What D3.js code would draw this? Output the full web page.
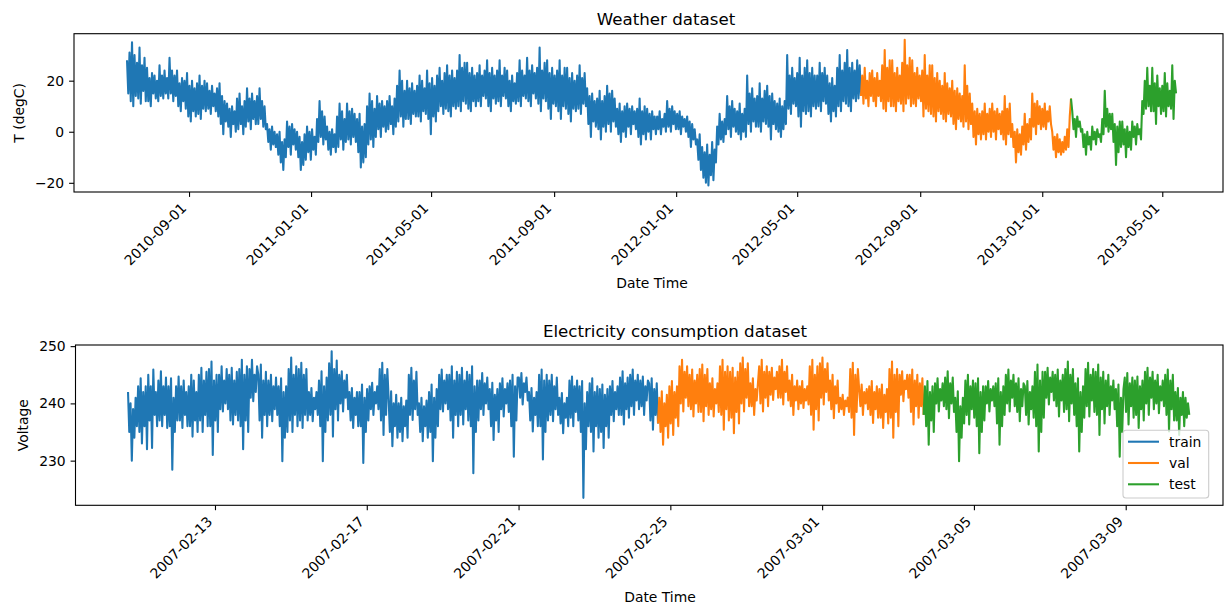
<!DOCTYPE html>
<html>
<head>
<meta charset="utf-8">
<script src="https://cdn.jsdelivr.net/npm/d3@7"></script>
<style>
  body { margin: 0; background: #fff; }
  text { font-family: "DejaVu Sans", sans-serif; }
</style>
</head>
<body>
<svg id="chart"></svg>
<script>
// ---- weather (T degC), one value every 30 hours from 2010-07-01 ----
const weatherStart = "2010-07-01T00:00";
const weatherStepMinutes = 1800;
const weatherTrain = [
  28, 15, 31, 12, 35, 10, 30, 14,  27, 13, 33, 11, 26, 16, 29, 12,  25, 12, 21, 10, 23, 15, 22, 13,
  20, 12, 26, 14, 22, 13, 24, 15,  21, 13, 29, 15, 24, 12, 22, 14,  24, 10, 19, 8, 21, 12, 20, 9,
  23, 6, 18, 4, 20, 8, 17, 6,  19, 7, 22, 5, 18, 9, 20, 8,  19, 9, 16, 7, 18, 10, 15, 8,
  17, 6, 19, 3, 14, -1, 12, 4,  11, 2, 9, -2, 10, 3, 8, 0,  13, 1, 15, 3, 10, -1, 12, 2,
  17, 4, 13, 1, 15, 5, 12, 3,  14, 3, 17, 5, 12, 2, 10, 1,  3, -4, 1, -7, 2, -5, 0, -6,
  -1, -9, 0, -12, -4, -15, -3, -10,  4, -6, 2, -9, 3, -5, 1, -7,  0, -10, -2, -15, -4, -13, -1, -11,
  2, -8, 0, -11, 1, -7, -2, -9,  5, -4, 12, -2, 8, -5, 6, -3,  2, -7, 0, -9, 1, -6, -1, -8,
  6, -6, 11, -3, 8, -7, 5, -4,  11, -3, 8, -5, 9, -2, 7, -4,  5, -8, 7, -14, 2, -12, 3, -10,
  10, -5, 15, -3, 12, -6, 9, -2,  14, 1, 11, -2, 12, 2, 10, 0,  12, 1, 14, 3, 10, -1, 13, 2,
  18, 4, 24, 6, 20, 2, 16, 5,  20, 5, 17, 3, 19, 7, 16, 6,  18, 6, 22, 4, 20, 8, 17, 7,
  24, 5, 19, -1, 21, 6, 18, 4,  22, 8, 25, 10, 20, 7, 23, 9,  26, 8, 22, 6, 24, 10, 21, 9,
  24, 10, 30, 8, 25, 12, 27, 11,  27, 9, 23, 8, 25, 12, 22, 10,  23, 12, 26, 10, 22, 14, 24, 13,
  28, 10, 23, 8, 25, 13, 22, 11,  24, 12, 28, 10, 22, 14, 25, 13,  24, 10, 20, 8, 22, 12, 19, 11,
  23, 12, 28, 10, 24, 14, 22, 13,  29, 12, 24, 10, 26, 15, 23, 13,  25, 11, 33, 8, 24, 13, 27, 12,
  28, 9, 23, 5, 25, 11, 22, 10,  24, 8, 28, 5, 22, 10, 25, 9,  25, 7, 21, 4, 23, 9, 20, 8,
  22, 9, 26, 7, 21, 11, 23, 10,  17, 3, 14, -2, 15, 4, 12, 2,  13, 1, 16, -3, 12, 2, 14, 0,
  18, 3, 15, 0, 16, 4, 13, 2,  9, -1, 11, -4, 8, 0, 10, -2,  11, 2, 9, -1, 10, 3, 8, 1,
  9, -2, 13, -5, 8, -1, 10, -3,  9, 0, 7, -3, 8, 1, 6, -1,  6, 1, 8, -1, 5, 2, 7, 0,
  12, 2, 9, 0, 10, 3, 8, 1,  7, 1, 8, -1, 6, 2, 5, 0,  6, -2, 4, -6, 3, -3, 1, -5,
  -3, -11, -1, -15, -6, -18, -8, -20,  -5, -21, -9, -17, -4, -19, -7, -12,  2, -5, 7, -3, 4, -4, 5, -1,
  14, 1, 10, -2, 12, 2, 9, 0,  8, -1, 11, -3, 7, 0, 9, -2,  22, 3, 15, 0, 17, 4, 13, 2,
  14, 2, 19, 0, 13, 4, 16, 3,  18, 2, 14, -3, 15, 3, 12, 1,  11, 0, 13, -2, 10, 1, 12, 3,
  30, 9, 22, 7, 25, 11, 21, 10,  23, 6, 29, 2, 22, 8, 25, 7,  28, 8, 23, 6, 25, 10, 22, 9,
  22, 10, 27, 8, 23, 12, 25, 11,  22, 7, 19, 4, 21, 8, 18, 6,  25, 10, 30, 8, 24, 12, 27, 11,
  32, 10, 25, 8, 27, 13, 24, 12, 28, 13, 26, 14
];
const weatherVal = [
  22, 11, 25, 13, 20, 10, 23, 14,  24, 12, 21, 10, 23, 14, 20, 12,  26, 9, 32, 8, 25, 12, 28, 10,
  28, 10, 23, 8, 25, 12, 22, 11,  27, 8, 36, 11, 26, 13, 29, 10,  28, 11, 23, 10, 25, 13, 22, 12,
  24, 6, 30, 9, 22, 8, 26, 7,  26, 6, 21, 4, 23, 8, 20, 7,  18, 5, 23, 4, 19, 7, 17, 6,
  20, 3, 16, 1, 17, 5, 15, 4,  14, 2, 26, 4, 18, 1, 15, 3,  11, -2, 8, -5, 9, -1, 7, -3,
  8, -1, 11, -3, 7, 0, 9, -2,  11, 0, 8, -3, 9, 1, 7, -1,  8, -3, 14, -5, 9, -1, 11, -2,
  3, -6, 0, -12, 1, -8, -1, -9,  2, -5, 7, -7, 3, -4, 5, -3,  15, 2, 11, -1, 12, 3, 10, 1,
  9, 2, 11, 1, 8, 4, 10, 3,  0, -7, -2, -10, -1, -8, -3, -9,  -4, -8, -2, -7, 1, -6, 6, 13
];
const weatherTest = [
  8, 1, 5, -2, 6, 2, 4, 0,  1, -6, -1, -9, 0, -5, -2, -7,  2, -3, 0, -5, 1, -2, -1, -4,
  5, -1, 16, 2, 9, 0, 7, 1,  7, -4, 3, -13, 2, -8, 4, -6,  4, -5, 1, -10, 2, -6, 0, -7,
  4, -2, 2, -5, 3, -1, 1, -3,  12, 7, 20, 9, 25, 10, 18, 8,  25, 8, 19, 3, 22, 10, 17, 7,
  18, 8, 23, 6, 19, 10, 16, 9,  26, 5, 20, 15
];
const weatherTicks = ["2010-09-01", "2011-01-01", "2011-05-01", "2011-09-01", "2012-01-01",
  "2012-05-01", "2012-09-01", "2013-01-01", "2013-05-01"];
const weatherYTicks = [-20, 0, 20];

// ---- electricity (Voltage), one value every 48 minutes from 2007-02-10 17:00 ----
const powerStart = "2007-02-10T17:00";
const powerStepMinutes = 48;
const powerTrain = [
  242, 235, 240, 230, 239, 234, 241, 236,  243, 235, 244.4, 233, 242, 236, 243, 232,
  245, 237, 243, 232.2, 245.9, 238, 242, 236,  244, 237, 245.6, 236, 243, 238, 244.5, 235.7,
  243, 236, 244.4, 228.4, 241, 235, 243, 237,  244.7, 237, 243, 235.7, 244, 238, 242, 236,
  243, 236, 245, 234.2, 244, 237, 242, 235,  245, 237, 246.2, 235, 244, 238, 245.5, 236,
  246, 236, 247.3, 231, 244, 237, 245, 235,  245, 239, 246.5, 238.6, 244, 240, 246, 239,
  245, 237, 246.2, 236.3, 244, 238, 245.5, 237,  246, 236, 247.6, 232, 245, 237, 246.5, 235,
  246, 241, 247.6, 240.4, 245, 242, 246.5,  245, 237, 246.8, 234, 244, 238, 245.5, 236,
  244, 238, 245, 236.9, 243, 239, 244.5, 238,  243, 236, 244.4, 229.9, 242, 234, 243, 235,
  246, 237, 248, 235, 245, 238, 246.5, 236,  246, 237, 247.1, 235.7, 245, 238, 246, 237,
  242, 238, 242.7, 236.9, 241, 239, 242, 238,  244, 236, 245.6, 229.9, 243, 235, 244.5, 237,
  247, 238, 249.1, 234.2, 246, 239, 247.5, 237,  245, 240, 245.6, 238.6, 244, 241, 245, 239,
  242, 237, 242.7, 235.7, 241, 238, 242, 236,  242, 236, 243.3, 229.6, 241, 235, 242.5, 237,
  243, 239, 243.6, 238, 242, 240, 243, 239,  246, 237, 247.1, 234.5, 245, 238, 246,
  241, 235, 242.1, 232.5, 240, 236, 241.5, 234,  240, 235, 241, 233.4, 239.5, 236, 240.5, 234,
  245, 238, 246.2, 237.1, 244, 239, 245.5, 238,  240, 235, 241, 233.4, 239.5, 236, 240.5, 234,
  242, 235, 243.3, 229.9, 241, 234, 242.5, 236,  245, 239, 245.9, 238.6, 244, 240, 245, 239,
  245, 237, 246.5, 234, 244, 238, 245.5, 236,  245, 238, 246.2, 236.3, 244, 239, 245.5, 237,
  245, 236, 246.5, 227.8, 243, 235, 244, 237,  244, 239, 245.3, 238, 243.5, 240, 244.5, 239,
  242.5, 236, 243.6, 233.6, 241.5, 237, 242.5, 235,  243.5, 239, 244.4, 237.7, 242.5, 240, 243.5, 238.5,
  244, 236, 245, 230.7, 243, 237, 244.5,  244.5, 241, 245.3, 239.8, 243.5, 242, 244.5, 240.5,
  242, 237, 242.7, 235.1, 241, 238, 242, 236,  245, 236, 245.9, 230.2, 244, 235, 245, 237,
  244, 238, 245, 236.9, 243, 239, 244.5, 238,  241, 236.5, 241.8, 234.8, 240, 237.5, 241, 236,
  244, 237.5, 244.7, 236, 243, 238.5, 244, 237,  243, 235, 243.9, 223.5, 240, 232, 242, 236,
  243.5, 235, 244.4, 231.6, 242, 236, 243, 234,  242.5, 235, 243.3, 232.2, 241.5, 236, 242.5, 234,
  243, 238, 243.9, 236.9, 242, 239, 243, 238,  244.5, 238, 245.6, 236.3, 243.5, 239, 244.5, 237.5,
  245, 239.5, 245.9, 238, 244, 240.5, 245, 239,  244, 239.5, 244.7, 238, 243, 240.5, 244,
  243.5, 237, 244.4, 235.4, 242.5, 238, 243.5, 236.5
];
const powerVal = [
  241, 235, 242.1, 232.8, 240, 236, 241.5, 234,  243, 236.5, 243.9, 234.5, 242, 237.5, 243, 236,
  246.5, 240, 247.6, 238.6, 245.5, 241, 246.5, 239.5,  245, 239, 245.9, 237.7, 244, 240, 245, 238.5,
  246, 238.5, 246.8, 236.9, 245, 239.5, 246, 238,  243.5, 239, 244.4, 237.7, 242.5, 240, 243.5, 238.5,
  246.5, 238, 247.6, 235.4, 245.5, 239, 246.5, 237,  245.5, 237.5, 246.2, 234.8, 244.5, 238.5, 245.5, 236.5,
  247, 240, 248, 238.6, 246, 241, 247, 239.5,  243.5, 239.5, 244.4, 238, 242.5, 240.5, 243.5,
  246.5, 240, 247.6, 238.6, 245.5, 241, 246.5, 239.5,  245.5, 241.5, 246.2, 240.6, 244.5, 242.5, 245.5, 241,
  246.5, 241, 247.6, 239.8, 245.5, 242, 246.5, 240.5,  244, 239.5, 245, 238, 243, 240.5, 244, 239,
  243, 240, 243.9, 239.2, 242.5, 240.5, 243, 239.8,  246.5, 238, 247.6, 235.4, 245, 239, 246.5, 237,
  247, 241, 248, 239.8, 246, 242, 247, 240.5,  244, 239, 245, 237.4, 243, 240, 244, 238.5,
  241, 239, 241.5, 238, 240.5, 239.5, 241, 238.5,  246, 237.5, 247.1, 234.5, 245, 238.5, 246,
  242.5, 239.5, 243.3, 238, 242, 240, 242.5, 239,  243, 238, 243.9, 236.6, 242, 239, 243, 237.5,
  242.5, 237.5, 243.3, 235.7, 241.5, 238.5, 242.5, 236.5,  246, 237.5, 247.3, 234, 245, 238.5, 246, 236,
  245, 241.5, 245.6, 240.4, 244, 242.5, 245, 241,  245, 238.5, 245.9, 236.3, 244, 239.5, 245, 237.5,
  243.5, 239.5, 244.4, 238
];
const powerTest = [
  243, 236, 243.9, 232.8, 242, 237, 243, 235,  243.5, 240, 244.4, 238.6, 242.5, 240.5, 243.5, 239.5,
  244.5, 239, 245.6, 237.4, 243.5, 240, 244.5, 238.5,  241, 235, 242.1, 229.9, 239.5, 234, 241, 236.5,
  244, 238, 245, 236.3, 243, 239, 244, 237.5,  243.5, 236, 244.4, 231.3, 242, 235, 243, 237,
  243, 240, 243.9, 238.6, 242.5, 240.5, 243, 239.5,  243.5, 236.5, 244.4, 232.8, 242, 236, 243, 238,
  245, 240, 245.9, 238.6, 244, 241, 245, 239.5,  243.5, 238.5, 244.4, 236.9, 242.5, 239.5, 243.5,
  243, 238, 243.9, 236.3, 242, 239, 243, 237.5,  245.5, 236, 246.8, 231.6, 244, 235, 245.5, 237.5,
  245.5, 241, 246.2, 239.8, 244.5, 242, 245.5, 240.5,  245, 239.5, 245.9, 237.7, 244, 240.5, 245, 238.5,
  246, 239, 247.3, 236.9, 245, 240, 246, 238,  243.5, 236, 244.4, 231.6, 242, 235, 243, 237.5,
  246, 239.5, 247.1, 237.7, 245, 240.5, 246, 238.5,  245.5, 238, 246.8, 234.5, 244.5, 239, 245.5, 236.5,
  244, 239.5, 245, 238, 243, 240.5, 244, 239,  242.5, 236, 243.3, 230.7, 241, 235, 242.5,
  244.5, 238.5, 245.3, 236.3, 243.5, 239.5, 244.5, 237.5,  244, 238, 244.7, 235.7, 243, 239, 244, 237,
  245.5, 240, 246.2, 238, 244.5, 241, 245.5, 239,  244, 240, 245, 238.3, 243, 240.5, 244, 239.5,
  245, 238, 245.9, 235.1, 244, 239, 245, 237,  242, 237, 242.7, 234.5, 241, 238, 242, 236,
  241, 237.5, 240, 238
];
const powerTicks = ["2007-02-13", "2007-02-17", "2007-02-21", "2007-02-25",
  "2007-03-01", "2007-03-05", "2007-03-09"];
const powerYTicks = [230, 240, 250];

const splitNames = ["train", "val", "test"];
const splitColors = ["#1f77b4", "#ff7f0e", "#2ca02c"];

const width = 1224, height = 605;
const parseDay = d3.utcParse("%Y-%m-%d");
const parseTime = d3.utcParse("%Y-%m-%dT%H:%M");
const fmtDay = d3.utcFormat("%Y-%m-%d");

const svg = d3.select("#chart")
  .attr("width", width)
  .attr("height", height)
  .style("display", "block");

function drawPanel(p) {
  const x = d3.scaleUtc().domain(p.xDomain).range([p.left, p.right]);
  const y = d3.scaleLinear().domain(p.yDomain).range([p.bottom, p.top]);
  const g = svg.append("g");

  // series, one path per split; each split picks up where the previous one stopped
  const start = parseTime(p.start);
  let offset = 0, prev = null;
  p.series.forEach((vals, k) => {
    let pts = vals.map((v, i) => ({ t: d3.utcMinute.offset(start, (offset + i) * p.stepMinutes), v: v }));
    offset += vals.length;
    if (prev) pts = [prev].concat(pts);
    prev = pts[pts.length - 1];
    g.append("path")
      .datum(pts)
      .attr("fill", "none")
      .attr("stroke", splitColors[k])
      .attr("stroke-width", 2.08)
      .attr("stroke-linejoin", "round")
      .attr("d", d3.line().x(d => x(d.t)).y(d => y(d.v)));
  });

  // frame
  g.append("rect")
    .attr("x", p.left).attr("y", p.top)
    .attr("width", p.right - p.left).attr("height", p.bottom - p.top)
    .attr("fill", "none").attr("stroke", "#000").attr("stroke-width", 1.1);

  // x axis
  const xAxis = g.append("g")
    .attr("transform", `translate(0,${p.bottom})`)
    .call(d3.axisBottom(x).tickValues(p.xTicks.map(parseDay)).tickFormat(fmtDay)
      .tickSize(4.9).tickSizeOuter(0));
  xAxis.select(".domain").remove();
  xAxis.selectAll(".tick line").attr("stroke", "#000").attr("stroke-width", 1.1);
  xAxis.selectAll(".tick text")
    .attr("x", 0).attr("y", 0).attr("dy", null)
    .attr("text-anchor", "end")
    .attr("transform", "translate(-2.3,17.1) rotate(-45)")
    .style("font-size", "13.9px").attr("fill", "#000");

  // y axis
  const yAxis = g.append("g")
    .attr("transform", `translate(${p.left},0)`)
    .call(d3.axisLeft(y).tickValues(p.yTicks).tickSize(4.9).tickPadding(4.9).tickSizeOuter(0));
  yAxis.select(".domain").remove();
  yAxis.selectAll(".tick line").attr("stroke", "#000").attr("stroke-width", 1.1);
  yAxis.selectAll(".tick text").style("font-size", "13.9px").attr("fill", "#000");

  // labels
  g.append("text")
    .attr("x", p.titleX).attr("y", p.top - 8.3)
    .attr("text-anchor", "middle")
    .style("font-size", "16.67px")
    .text(p.title);
  g.append("text")
    .attr("x", p.xLabelX).attr("y", p.xLabelY)
    .attr("text-anchor", "middle")
    .style("font-size", "13.9px")
    .text("Date Time");
  g.append("text")
    .attr("transform", `translate(${p.yLabelX},${(p.top + p.bottom) / 2}) rotate(-90)`)
    .attr("text-anchor", "middle")
    .style("font-size", "13.9px")
    .text(p.yLabel);
}

drawPanel({
  title: "Weather dataset", titleX: 666,
  yLabel: "T (degC)", yLabelX: 24,
  xLabelX: 652, xLabelY: 287.5,
  left: 74, right: 1223, top: 33.7, bottom: 192,
  xDomain: [parseTime("2010-05-09T00:00"), parseTime("2013-06-30T17:00")],
  yDomain: [-23.6, 38.4],
  xTicks: weatherTicks, yTicks: weatherYTicks,
  start: weatherStart, stepMinutes: weatherStepMinutes,
  series: [weatherTrain, weatherVal, weatherTest]
});

drawPanel({
  title: "Electricity consumption dataset", titleX: 675,
  yLabel: "Voltage", yLabelX: 28.3,
  xLabelX: 660, xLabelY: 601.5,
  left: 75.5, right: 1223, top: 345, bottom: 505.3,
  xDomain: [parseTime("2007-02-09T07:47"), parseTime("2007-03-11T13:32")],
  yDomain: [222.2, 250.2],
  xTicks: powerTicks, yTicks: powerYTicks,
  start: powerStart, stepMinutes: powerStepMinutes,
  series: [powerTrain, powerVal, powerTest]
});

// legend (bottom panel, lower right)
const legend = svg.append("g").attr("transform", "translate(1123,430.3)");
legend.append("rect")
  .attr("width", 85.7).attr("height", 67.7).attr("rx", 3)
  .attr("fill", "#fff").attr("fill-opacity", 0.8)
  .attr("stroke", "#ccc").attr("stroke-width", 1.1);
splitNames.forEach((name, i) => {
  const ly = 11.4 + i * 21.3;
  legend.append("line")
    .attr("x1", 5).attr("x2", 36).attr("y1", ly).attr("y2", ly)
    .attr("stroke", splitColors[i]).attr("stroke-width", 2.08);
  legend.append("text")
    .attr("x", 46).attr("y", ly).attr("dy", "0.35em")
    .style("font-size", "13.9px")
    .text(name);
});
</script>
</body>
</html>
